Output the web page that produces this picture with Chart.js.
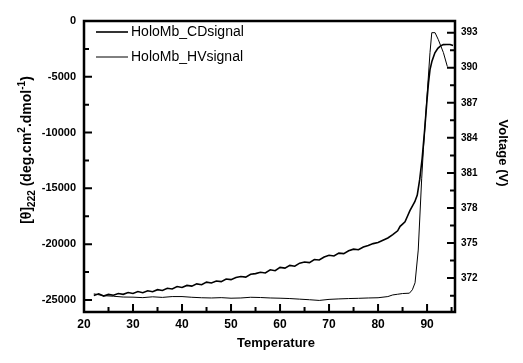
<!DOCTYPE html>
<html>
<head>
<meta charset="utf-8">
<script src="https://cdn.jsdelivr.net/npm/chart.js@4.4.1/dist/chart.umd.min.js"></script>
<style>
  body { margin: 0; background: #fff; }
  #wrap { width: 523px; height: 363px; }
</style>
</head>
<body>
<div id="wrap"><canvas id="myChart" width="523" height="363"></canvas></div>
<script>
// temperatures / values
var cdTemp = [22, 23, 24, 25, 26, 27, 28, 29, 30, 31, 32, 33, 34, 35, 36, 37, 38, 39, 40,
  41, 42, 43, 44, 45, 46, 47, 48, 49, 50, 51, 52, 53, 54, 55, 56, 57, 58, 59, 60,
  61, 62, 63, 64, 65, 66, 67, 68, 69, 70, 71, 72, 73, 74, 75, 76, 77, 78, 79, 80,
  81, 82, 83, 84, 84.5, 85, 85.5, 86, 86.5, 87, 87.5, 88, 88.5, 89, 89.5, 90, 90.3,
  90.6, 91, 91.6, 92.2, 92.7, 93.3, 94, 94.7, 95.3];
var cdSignal = [-24600, -24450, -24650, -24500, -24580, -24420, -24500, -24330, -24420, -24250,
  -24350, -24180, -24260, -24080, -24150, -23950, -24020, -23800, -23880, -23700,
  -23760, -23560, -23640, -23400, -23480, -23300, -23360, -23120, -23180, -22980,
  -22900, -22950, -22700, -22640, -22520, -22580, -22300, -22380, -22080, -22150,
  -21900, -21980, -21700, -21600, -21650, -21380, -21420, -21150, -21000, -21060,
  -20800, -20850, -20600, -20450, -20500, -20250, -20120, -19950, -19850, -19650,
  -19450, -19150, -18800, -18400, -18200, -18000, -17500, -17000, -16600, -16200,
  -15600, -14200, -12300, -9800, -7000, -5500, -4350, -3600, -2850, -2450,
  -2250, -2120, -2100, -2110, -2200];

var hvTemp = [22, 24, 26, 28, 30, 32, 34, 36, 38, 40, 42, 44, 46, 48, 50, 52, 54, 56, 58, 60,
  62, 64, 66, 68, 70, 72, 74, 76, 78, 80, 82, 83, 84, 85, 86.4, 87, 87.55, 88.2, 88.9,
  89.25, 89.9, 90.6, 90.96, 91.63, 92.3, 93.33, 94.14];
var hvSignal = [370.65, 370.5, 370.45, 370.38, 370.37, 370.33, 370.4, 370.35, 370.42, 370.42,
  370.36, 370.32, 370.3, 370.33, 370.28, 370.3, 370.36, 370.34, 370.3, 370.28,
  370.25, 370.2, 370.15, 370.09, 370.18, 370.22, 370.25, 370.27, 370.3, 370.32,
  370.42, 370.56, 370.62, 370.68, 370.71, 371.0, 371.6, 374.4, 380.5,
  383.0, 387.0, 391.3, 393.0, 393.0, 392.4, 391.3, 390.1];

var xTicks = [20, 30, 40, 50, 60, 70, 80, 90];
var xMinor = [25, 35, 45, 55, 65, 75, 85, 95];
var leftTicks = [-25000, -20000, -15000, -10000, -5000, 0];
var leftMinor = [-22500, -17500, -12500, -7500, -2500];
var rightTicks = [372, 375, 378, 381, 384, 387, 390, 393];
var rightMinor = [370.5, 373.5, 376.5, 379.5, 382.5, 385.5, 388.5, 391.5];

var fontFam = '"Liberation Sans", Arial, sans-serif';

function toPoints(xs, ys) {
    var pts = [];
    for (var i = 0; i < xs.length; i++) {
        pts.push({x: xs[i], y: ys[i]});
    }
    return pts;
}

function setTicks(list) {
    return function (scale) {
        scale.ticks = list.map(function (v) { return {value: v}; });
    };
}

// frame, inner ticks, legend and axis titles
var framePlugin = {
    id: 'frame',
    afterDraw: function (chart) {
        var ctx = chart.ctx, a = chart.chartArea;
        var sx = chart.scales.x, sl = chart.scales.y, sr = chart.scales.y1;
        ctx.save();
        ctx.strokeStyle = '#000';
        ctx.lineWidth = 2;
        ctx.beginPath();
        xTicks.forEach(function (v) { var p = sx.getPixelForValue(v); ctx.moveTo(p, a.bottom); ctx.lineTo(p, a.bottom - 8); });
        xMinor.forEach(function (v) { var p = sx.getPixelForValue(v); ctx.moveTo(p, a.bottom); ctx.lineTo(p, a.bottom - 5); });
        leftTicks.forEach(function (v) { var p = sl.getPixelForValue(v); ctx.moveTo(a.left, p); ctx.lineTo(a.left + 8, p); });
        leftMinor.forEach(function (v) { var p = sl.getPixelForValue(v); ctx.moveTo(a.left, p); ctx.lineTo(a.left + 5, p); });
        rightTicks.forEach(function (v) { var p = sr.getPixelForValue(v); ctx.moveTo(a.right, p); ctx.lineTo(a.right - 8, p); });
        rightMinor.forEach(function (v) { var p = sr.getPixelForValue(v); ctx.moveTo(a.right, p); ctx.lineTo(a.right - 5, p); });
        ctx.stroke();
        ctx.lineWidth = 2.5;
        ctx.strokeRect(a.left, a.top, a.right - a.left, a.bottom - a.top);

        // legend
        ctx.fillStyle = '#000';
        ctx.font = '14px ' + fontFam;
        ctx.textBaseline = 'middle';
        ctx.textAlign = 'left';
        var legY = [32, 57];
        chart.data.datasets.forEach(function (ds, i) {
            ctx.lineWidth = ds.borderWidth;
            ctx.beginPath();
            ctx.moveTo(a.left + 12, legY[i]);
            ctx.lineTo(a.left + 44, legY[i]);
            ctx.stroke();
            ctx.fillText(ds.label, a.left + 47, legY[i]);
        });

        // x title
        ctx.font = 'bold 13px ' + fontFam;
        ctx.textAlign = 'center';
        ctx.fillText('Temperature', 276, 343);

        // right title
        ctx.save();
        ctx.translate(503, 153);
        ctx.rotate(Math.PI / 2);
        ctx.fillText('Voltage (V)', 0, 0);
        ctx.restore();

        // left title with sub/superscripts
        var parts = [['[\u03b8]', 14, 0], ['222', 10, 4], [' (deg.cm', 14, 0], ['2', 10, -6],
            ['.dmol', 14, 0], ['-1', 10, -6], [')', 14, 0]];
        ctx.textAlign = 'left';
        ctx.textBaseline = 'alphabetic';
        var total = 0;
        parts.forEach(function (p) { ctx.font = 'bold ' + p[1] + 'px ' + fontFam; total += ctx.measureText(p[0]).width; });
        ctx.save();
        ctx.translate(26, 150);
        ctx.rotate(-Math.PI / 2);
        var u = -total / 2;
        parts.forEach(function (p) {
            ctx.font = 'bold ' + p[1] + 'px ' + fontFam;
            ctx.fillText(p[0], u, 5 + p[2]);
            u += ctx.measureText(p[0]).width;
        });
        ctx.restore();
        ctx.restore();
    }
};

var dataForChart = {
    datasets: [
        {label: 'HoloMb_CDsignal', data: toPoints(cdTemp, cdSignal), yAxisID: 'y',
         borderColor: '#000', borderWidth: 1.6, pointRadius: 0, tension: 0},
        {label: 'HoloMb_HVsignal', data: toPoints(hvTemp, hvSignal), yAxisID: 'y1',
         borderColor: '#000', borderWidth: 1, pointRadius: 0, tension: 0}
    ]
};

var myChart = new Chart(document.getElementById('myChart'), {
    type: 'line',
    data: dataForChart,
    plugins: [framePlugin],
    options: {
        responsive: false,
        animation: false,
        layout: {padding: {top: 21, left: 0, right: 0, bottom: 0}},
        plugins: {legend: {display: false}, tooltip: {enabled: false}},
        scales: {
            x: {
                type: 'linear', min: 20, max: 95.7,
                afterBuildTicks: setTicks(xTicks),
                afterFit: function (s) { s.height = 51; },
                grid: {display: false, drawTicks: false},
                border: {display: false},
                ticks: {padding: 5, color: '#000', font: {family: fontFam, size: 12, weight: 'bold'},
                    callback: function (v) { return String(v); }}
            },
            y: {
                type: 'linear', position: 'left', min: -26080, max: 0,
                afterBuildTicks: setTicks(leftTicks),
                afterFit: function (s) { s.width = 84; },
                grid: {display: false, drawTicks: false},
                border: {display: false},
                ticks: {padding: 8, color: '#000', font: {family: fontFam, size: 11, weight: 'bold'},
                    callback: function (v) { return String(v); }}
            },
            y1: {
                type: 'linear', position: 'right', min: 369.1, max: 394,
                afterBuildTicks: setTicks(rightTicks),
                afterFit: function (s) { s.width = 68; },
                grid: {display: false, drawTicks: false},
                border: {display: false},
                ticks: {padding: 6, color: '#000', font: {family: fontFam, size: 10, weight: 'bold'},
                    callback: function (v) { return String(v); }}
            }
        }
    }
});
</script>
</body>
</html>
